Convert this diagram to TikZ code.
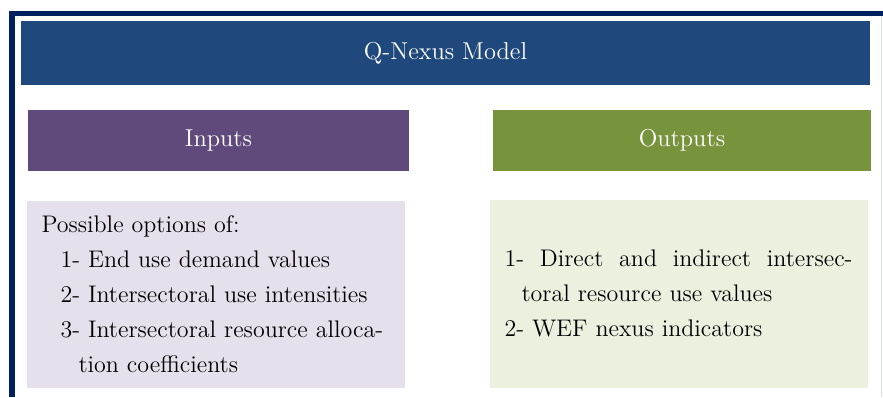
\documentclass[tikz,border=0pt]{standalone}
\usepackage{tikz}
\usetikzlibrary{positioning}
\definecolor{framenavy}{HTML}{002060}
\definecolor{framegray}{HTML}{DCDCE6}
\definecolor{modelblue}{HTML}{1F497D}
\definecolor{inputpurple}{HTML}{604A7B}
\definecolor{outputgreen}{HTML}{77933C}
\definecolor{inputlilac}{HTML}{E5E0EC}
\definecolor{outputpale}{HTML}{EBF1DE}
\tikzstyle{header} = [rectangle, minimum height=30.5pt, inner sep=0pt, text centered, text=white, font=\fontsize{12.2}{14}\selectfont]
\tikzstyle{detail} = [rectangle, minimum height=93.5pt, text width=174.5pt, inner xsep=7.25pt, align=left, font=\fontsize{12}{17.5}\selectfont]
\tikzstyle{frame} = [line width=2.75pt, draw=framenavy]

\begin{document}
\begin{tikzpicture}[x=0.5pt,y=-0.5pt]
\useasboundingbox (0,0) rectangle (883,397);

% outer frame
\draw[frame] (12,397) -- (12,13.5) -- (883,13.5);
\draw[framegray, line width=0.6pt] (881.5,16) -- (881.5,397);

\node (model) [header, fill=modelblue, minimum width=424.5pt, minimum height=32pt] at (445.5,53) {Q-Nexus Model};

\node (inputs) [header, fill=inputpurple, minimum width=190.5pt, node distance=43.75pt, below of=model, xshift=-113.5pt] {Inputs};
\node (outputs) [header, fill=outputgreen, minimum width=189pt, node distance=231.75pt, right of=inputs] {Outputs};

\node (inlist) [detail, fill=inputlilac, node distance=76.75pt, below of=inputs, xshift=-1.25pt] {Possible options of:\\
\hspace*{9.5pt}1- End use demand values\\
\hspace*{9.5pt}2- Intersectoral use intensities\\
\hspace*{9.5pt}\hbox to 165pt{3- Intersectoral resource alloca-}\\
\hspace*{18.5pt}tion coefficients};

\node (outlist) [detail, fill=outputpale, minimum height=94pt, node distance=76.5pt, below of=outputs, xshift=-1.5pt] {\hbox to 174pt{1-\hfill Direct\hfill and\hfill indirect\hfill intersec-}\\
\hspace*{8.5pt}toral resource use values\\
2- WEF nexus indicators};

\end{tikzpicture}
\end{document}
